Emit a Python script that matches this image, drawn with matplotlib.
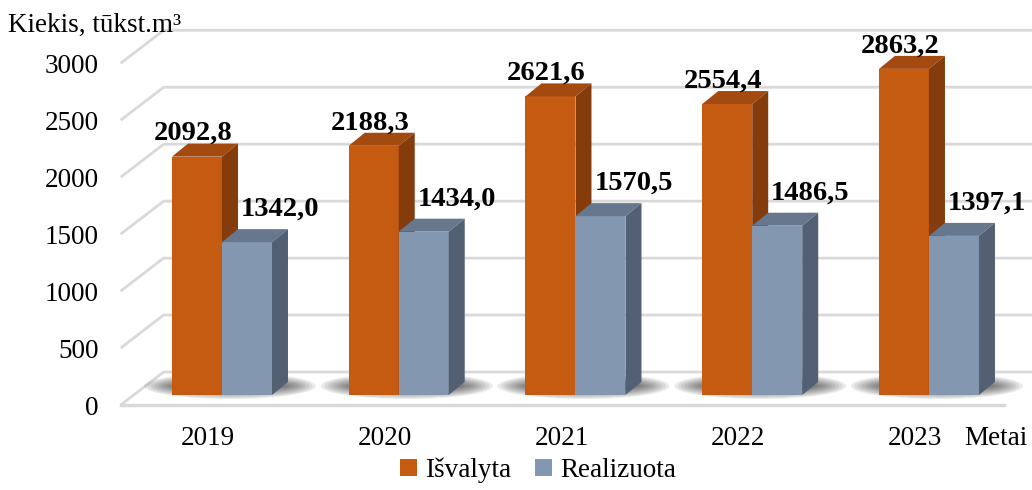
import matplotlib.pyplot as plt
from matplotlib.patches import Polygon, Ellipse, Patch

# data
years = ["2019", "2020", "2021", "2022", "2023"]
isvalyta = [2092.8, 2188.3, 2621.6, 2554.4, 2863.2]
realizuota = [1342.0, 1434.0, 1570.5, 1486.5, 1397.1]
y_ticks = [0, 500, 1000, 1500, 2000, 2500, 3000]
series_names = ["Išvalyta", "Realizuota"]

FONT = "Liberation Serif"
FS = 19.5
W, H = 1032, 490

fig = plt.figure(figsize=(W / 100, H / 100), dpi=100)
ax = fig.add_axes([0, 0, 1, 1])
x0, x1 = -1.256, 4.583
y0, y1 = -834, 3468
ax.set_xlim(x0, x1)
ax.set_ylim(y0, y1)
ax.axis("off")

ux = W / (x1 - x0)   # pixels per category
uy = H / (y1 - y0)   # pixels per value unit


def dx(px):
    return px / ux


def dy(py):
    return py / uy


# 3d geometry (pixel offsets)
left, right = -0.5, len(years) - 0.5
back = (dx(30), dy(23))     # back wall relative to bar plane
front = (dx(-13), dy(-10))  # front edge of floor
depth = (dx(16), dy(13))    # bar depth
bw = dx(50)                 # bar width
grid_c = "#d9d9d9"

# walls / gridlines
for v in y_ticks:
    xs = [left + front[0], left + back[0], right + back[0]]
    ys = [v + front[1], v + back[1], v + back[1]]
    ax.plot(xs, ys, color=grid_c, lw=2, zorder=1, solid_capstyle="butt")
    ax.text(left + dx(-35), v + front[1] - dy(9.5), str(v), ha="right",
            va="baseline", fontsize=FS, family=FONT)
# floor front edge
ax.plot([left + front[0], right + front[0]], [front[1], front[1]],
        color=grid_c, lw=2.5, zorder=1)

# soft shadows on the floor
for i in range(len(years)):
    for k in range(9):
        e = Ellipse((i + depth[0] / 2, dy(9)), width=2 * bw + dx(72 - 7 * k),
                    height=dy(26 - 2.2 * k), color="#202020", alpha=0.085,
                    lw=0, zorder=2)
        ax.add_patch(e)


def bar3d(xl, v, cf, ct, cs):
    xr = xl + bw
    ax.add_patch(Polygon([(xl, 0), (xr, 0), (xr, v), (xl, v)], closed=True,
                         fc=cf, ec="none", zorder=3))
    ax.add_patch(Polygon([(xl, v), (xl + depth[0], v + depth[1]),
                          (xr + depth[0], v + depth[1]), (xr, v)],
                         closed=True, fc=ct, ec="none", zorder=3))
    ax.add_patch(Polygon([(xr, 0), (xr + depth[0], depth[1]),
                          (xr + depth[0], v + depth[1]), (xr, v)],
                         closed=True, fc=cs, ec="none", zorder=3))


orange = ("#c55a11", "#a24a0f", "#843c0c")
blue = ("#8497b0", "#66778e", "#536073")

for i in range(len(years)):
    bar3d(i - bw, isvalyta[i], *orange)
    bar3d(i, realizuota[i], *blue)
    ax.text(i - bw / 2 - dx(4), isvalyta[i] + dy(16.5),
            f"{isvalyta[i]:.1f}".replace(".", ","), ha="center",
            va="baseline", fontsize=20.5, fontweight="bold", family=FONT,
            zorder=5)
    ax.text(i + bw / 2 + dx(33), realizuota[i] + dy(26),
            f"{realizuota[i]:.1f}".replace(".", ","), ha="center",
            va="baseline", fontsize=20.5, fontweight="bold", family=FONT,
            zorder=5)
    ax.text(i - dx(14), dy(-50), years[i], ha="center", va="baseline",
            fontsize=FS, family=FONT)

ax.text(right + front[0] - dx(40), dy(-50), "Metai", ha="left",
        va="baseline", fontsize=FS, family=FONT)
fig.text(8 / W, 1 - 32 / H, "Kiekis, tūkst.m³", ha="left", va="baseline",
         fontsize=FS, family=FONT)

handles = [Patch(fc=orange[0], ec="none"), Patch(fc=blue[0], ec="none")]
ax.legend(handles, series_names, loc="lower center",
          bbox_to_anchor=(538 / W, -0.008), ncol=2, frameon=False,
          handlelength=0.62, handleheight=0.62, handletextpad=0.3,
          columnspacing=0.9, borderaxespad=0.0,
          prop={"family": FONT, "size": FS})

fig.savefig("out.png", dpi=100)
